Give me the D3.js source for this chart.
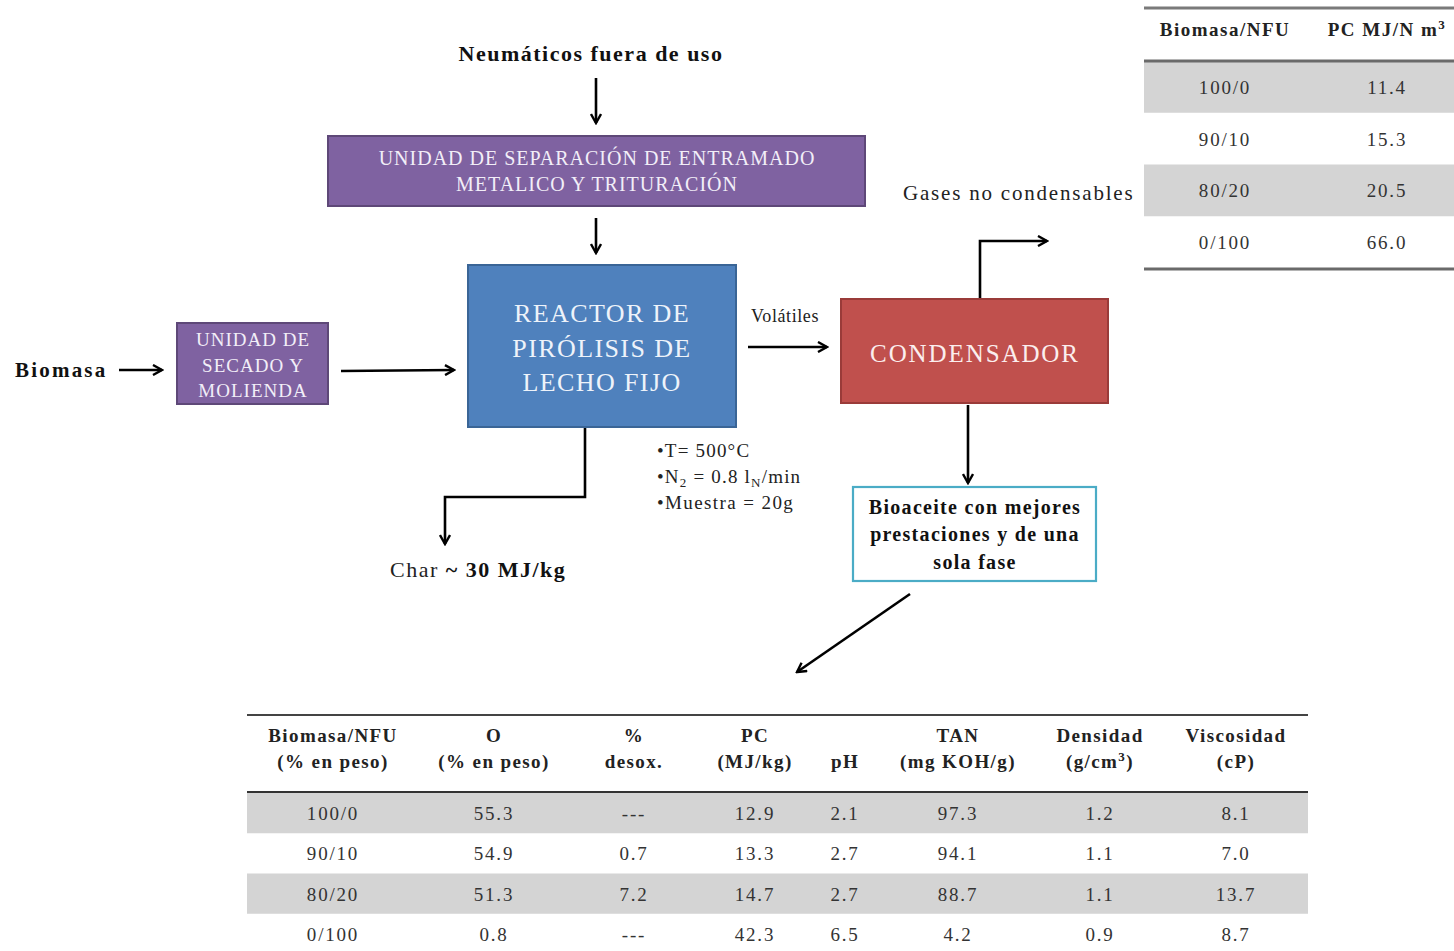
<!DOCTYPE html>
<html><head><meta charset="utf-8">
<script src="https://cdn.jsdelivr.net/npm/d3@7"></script>
<style>body{margin:0;background:#fff}svg{display:block}text{font-family:"Liberation Serif","DejaVu Serif",serif;letter-spacing:1.5px}</style>
</head><body>
<script>
// ---- data ----
const gasCategories = ["100/0","90/10","80/20","0/100"];
const gasPC = ["11.4","15.3","20.5","66.0"];
const gasHeaders = ["Biomasa/NFU","PC  MJ/N m³"];

const oilCategories = ["100/0","90/10","80/20","0/100"];
const oilO = ["55.3","54.9","51.3","0.8"];
const oilDesox = ["---","0.7","7.2","---"];
const oilPC = ["12.9","13.3","14.7","42.3"];
const oilPH = ["2.1","2.7","2.7","6.5"];
const oilTAN = ["97.3","94.1","88.7","4.2"];
const oilDens = ["1.2","1.1","1.1","0.9"];
const oilVisc = ["8.1","7.0","13.7","8.7"];
const oilHeaders = [["Biomasa/NFU","(% en peso)"],["O","(% en peso)"],["%","desox."],["PC","(MJ/kg)"],["","pH"],["TAN","(mg KOH/g)"],["Densidad","(g/cm³)"],["Viscosidad","(cP)"]];

const W=1454,H=951;
const svg=d3.select("body").append("svg").attr("width",W).attr("height",H);
const defs=svg.append("defs");
defs.append("marker").attr("id","arr").attr("viewBox","0 0 12 12").attr("refX",10).attr("refY",6)
 .attr("markerWidth",12).attr("markerHeight",12).attr("markerUnits","userSpaceOnUse").attr("orient","auto")
 .append("path").attr("d","M1,1 L10,6 L1,11").attr("fill","none").attr("stroke","#000").attr("stroke-width",2.4);

function arrow(pts){
  svg.append("path").attr("d",d3.line()(pts)).attr("fill","none").attr("stroke","#000")
   .attr("stroke-width",2.6).attr("marker-end","url(#arr)");
}
function box(x,y,w,h,fill,stroke,sw){
  svg.append("rect").attr("x",x).attr("y",y).attr("width",w).attr("height",h)
   .attr("fill",fill).attr("stroke",stroke).attr("stroke-width",sw||2);
}
function lines(cx,ys,arr,size,fill,weight,ls){
  arr.forEach((t,i)=>svg.append("text").attr("x",cx).attr("y",ys[i]).attr("text-anchor","middle")
   .attr("font-size",size).attr("fill",fill).attr("font-weight",weight||"normal")
   .style("letter-spacing",(ls==null?1.5:ls)+"px").text(t));
}

// ---- flow diagram ----
lines(591,[61],["Neumáticos fuera de uso"],22,"#111","bold",1.5);
arrow([[596,78],[596,123]]);
box(328,136,537,70,"#7F62A1","#5E4878",2);
lines(597,[165,191],["UNIDAD DE SEPARACIÓN DE ENTRAMADO","METALICO Y TRITURACIÓN"],20,"#f2eef8","normal",1);
arrow([[596,218],[596,253]]);

box(468,265,268,162,"#4F81BD","#3A6596",2);
lines(602,[322,357,391],["REACTOR DE","PIRÓLISIS DE","LECHO FIJO"],26,"#eef3fa","normal",1.4);

svg.append("text").attr("x",15).attr("y",377).attr("font-size",21).attr("font-weight","bold").attr("fill","#111").style("letter-spacing","2.2px").text("Biomasa");
arrow([[119,370],[162,370]]);
box(177,323,151,81,"#7F62A1","#5E4878",2);
lines(253,[346,372,397],["UNIDAD DE","SECADO Y","MOLIENDA"],19,"#f2eef8","normal",1);
arrow([[341,371],[454,370]]);

svg.append("text").attr("x",751).attr("y",322).attr("font-size",18).attr("fill","#222").style("letter-spacing","0.6px").text("Volátiles");
arrow([[748,347],[827,347]]);

box(841,299,267,104,"#C0504D","#9A3B39",2);
lines(975,[362],["CONDENSADOR"],25,"#fbeeee","normal",1.9);

arrow([[980,298],[980,241],[1047,241]]);
svg.append("text").attr("x",903).attr("y",200).attr("font-size",21).attr("fill","#222").style("letter-spacing","1.8px").text("Gases no condensables");

arrow([[968,405],[968,483]]);
box(853,487,243,94,"#fff","#4BACC6",2.2);
lines(975,[514,541,569],["Bioaceite con mejores","prestaciones y de una","sola fase"],20,"#111","bold",1.3);
arrow([[910,594],[797,672]]);

arrow([[585,428],[585,497],[445,497],[445,544]]);
const ch=svg.append("text").attr("x",390).attr("y",577).attr("font-size",22).attr("fill","#222").style("letter-spacing","1.5px");
ch.append("tspan").text("Char  ");
ch.append("tspan").attr("font-weight","bold").attr("fill","#111").text("~ 30 MJ/kg");

const condY=[457,483,509];
const c1=svg.append("text").attr("x",657).attr("y",condY[0]).attr("font-size",19).attr("fill","#222").style("letter-spacing","1.2px").text("•T= 500°C");
const c2=svg.append("text").attr("x",657).attr("y",condY[1]).attr("font-size",19).attr("fill","#222").style("letter-spacing","1.2px");
c2.append("tspan").text("•N");
c2.append("tspan").attr("font-size",13).attr("dy",4).text("2");
c2.append("tspan").attr("dy",-4).text(" = 0.8 l");
c2.append("tspan").attr("font-size",13).attr("dy",4).text("N");
c2.append("tspan").attr("dy",-4).text("/min");
svg.append("text").attr("x",657).attr("y",condY[2]).attr("font-size",19).attr("fill","#222").style("letter-spacing","1.4px").text("•Muestra = 20g");

// ---- top-right table ----
const gx=1144,gw=W-gx;
const gRow=d3.scaleBand().domain(gasCategories).range([61,268]);
const gCol=d3.scalePoint().domain([0,1]).range([1225,1387]);
const gt=svg.append("g");
gt.selectAll("rect.r").data(gasCategories.filter((d,i)=>i%2===0)).join("rect")
 .attr("x",gx).attr("width",gw).attr("y",d=>gRow(d)).attr("height",gRow.bandwidth()).attr("fill","#D4D4D4");
[[8,"#7a7a7a"],[61,"#6a6a6a"],[269,"#6a6a6a"]].forEach(([y,c])=>gt.append("line").attr("x1",gx).attr("x2",W).attr("y1",y).attr("y2",y).attr("stroke",c).attr("stroke-width",3));
gasHeaders.forEach((h,i)=>{
  const t=gt.append("text").attr("x",gCol(i)).attr("y",36).attr("text-anchor","middle").attr("font-size",19).attr("font-weight","bold").attr("fill","#222").style("letter-spacing","1.5px");
  if(i===1){t.append("tspan").text("PC  MJ/N m");t.append("tspan").attr("font-size",13).attr("dy",-7).text("3");}
  else t.text(h);
});
gasCategories.forEach((c,i)=>{
  const y=gRow(c)+gRow.bandwidth()/2+7;
  gt.append("text").attr("x",gCol(0)).attr("y",y).attr("text-anchor","middle").attr("font-size",19).attr("fill","#333").style("letter-spacing","1.8px").text(c);
  gt.append("text").attr("x",gCol(1)).attr("y",y).attr("text-anchor","middle").attr("font-size",19).attr("fill","#333").style("letter-spacing","1.8px").text(gasPC[i]);
});

// ---- bottom table ----
const bx0=247,bx1=1308;
const bRow=d3.scaleBand().domain(oilCategories).range([793,954]);
const colCenters=[333,494,634,755,845,958,1100,1236];
const bCol=d3.scaleOrdinal().domain(d3.range(8)).range(colCenters);
const bt=svg.append("g");
bt.selectAll("rect.r").data(oilCategories.filter((d,i)=>i%2===0)).join("rect")
 .attr("x",bx0).attr("width",bx1-bx0).attr("y",d=>bRow(d)).attr("height",bRow.bandwidth()).attr("fill","#D4D4D4");
[715,792].forEach(y=>bt.append("line").attr("x1",bx0).attr("x2",bx1).attr("y1",y).attr("y2",y).attr("stroke",y===715?"#444":"#333").attr("stroke-width",2));
oilHeaders.forEach((h,i)=>{
  h.forEach((s,j)=>{
    if(!s) return;
    const t=bt.append("text").attr("x",bCol(i)).attr("y",j===0?742:768).attr("text-anchor","middle").attr("font-size",19).attr("font-weight","bold").attr("fill","#222").style("letter-spacing","1.4px");
    if(s==="(g/cm³)"){t.append("tspan").text("(g/cm");t.append("tspan").attr("font-size",13).attr("dy",-7).text("3");t.append("tspan").attr("dy",7).text(")");}
    else t.text(s);
  });
});
const cols=[oilCategories,oilO,oilDesox,oilPC,oilPH,oilTAN,oilDens,oilVisc];
oilCategories.forEach((c,r)=>{
  const y=bRow(c)+bRow.bandwidth()/2+7;
  cols.forEach((arr,i)=>bt.append("text").attr("x",bCol(i)).attr("y",y).attr("text-anchor","middle").attr("font-size",19).attr("fill","#333").style("letter-spacing","1.8px").text(arr[r]));
});
</script>
</body></html>
